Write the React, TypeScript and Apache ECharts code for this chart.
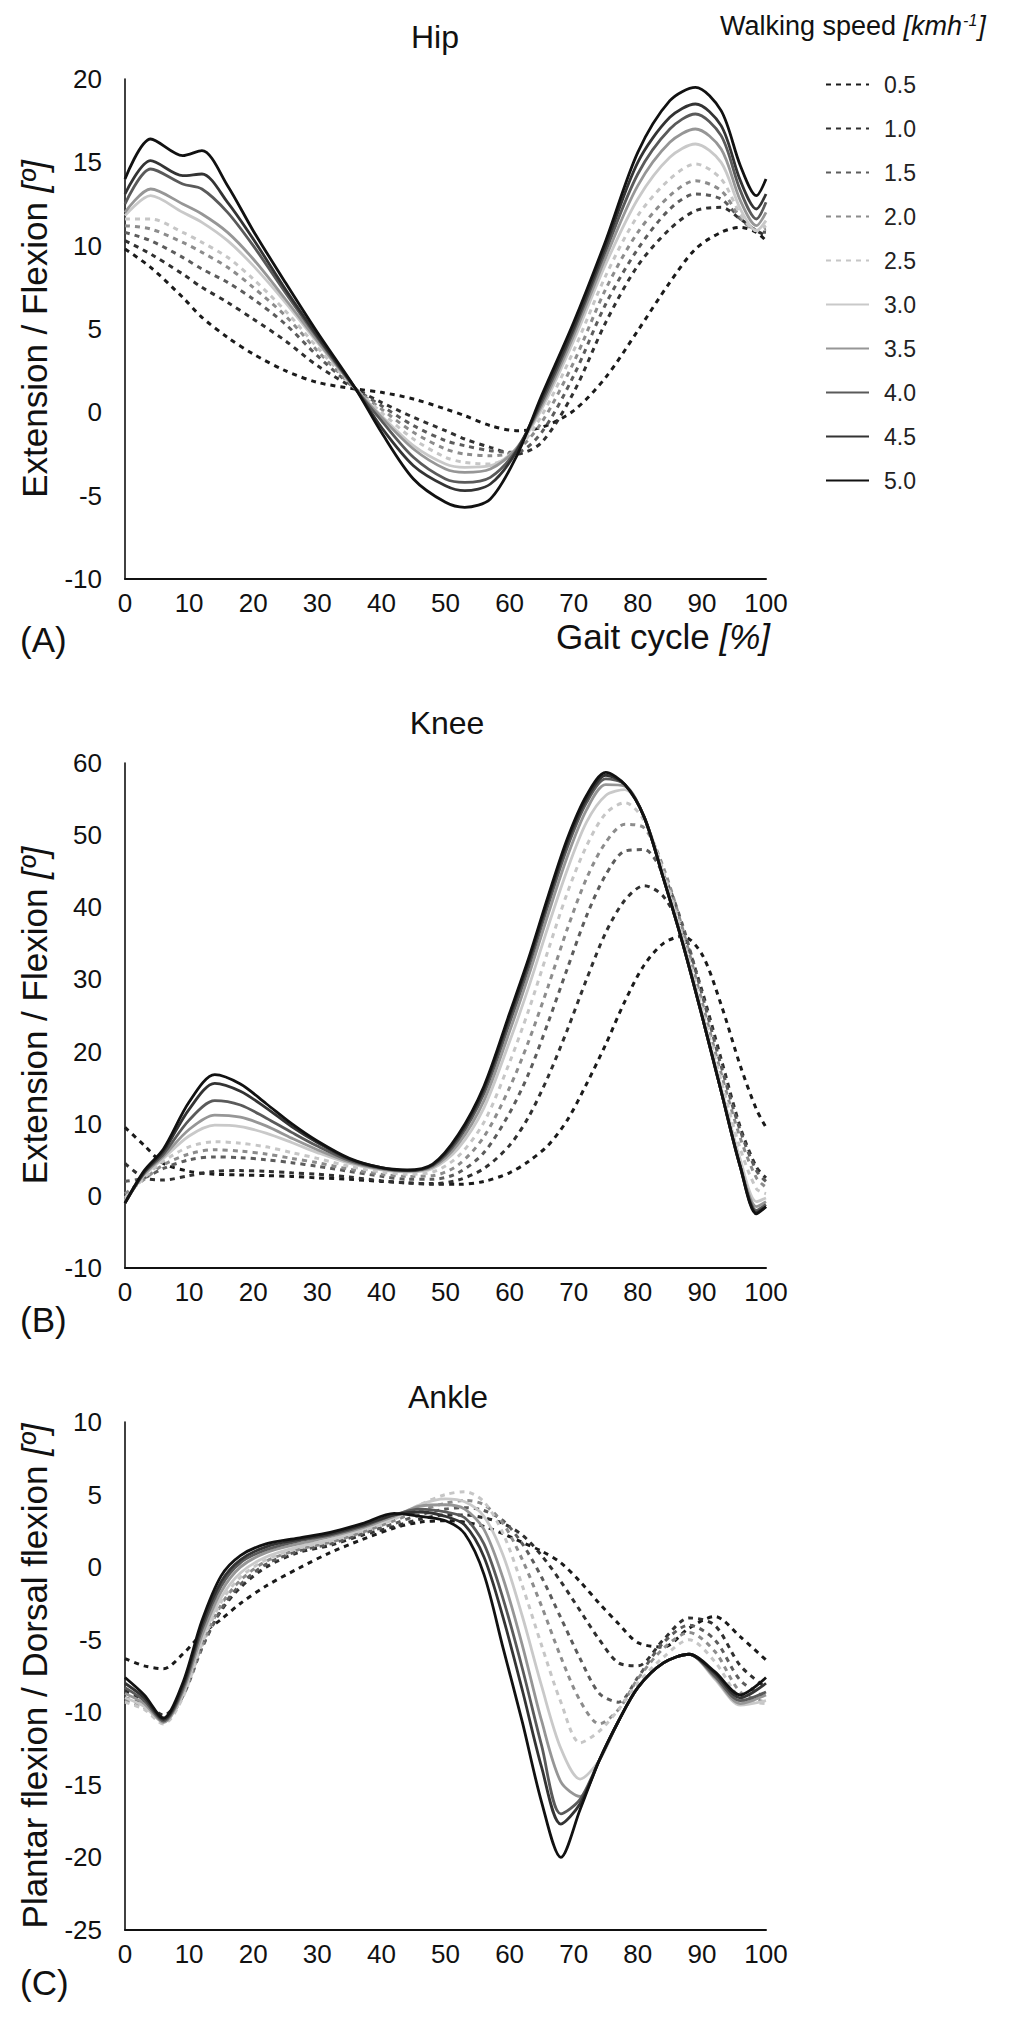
import React, { useEffect, useRef } from "react";
import * as echarts from "echarts";

// Walking speeds (km/h) – legend entries
const SPEEDS = ["0.5", "1.0", "1.5", "2.0", "2.5", "3.0", "3.5", "4.0", "4.5", "5.0"];

// ---------- HIP (gait cycle %, angle °) ----------
const HIP_X = [0, 4, 9, 12, 16, 20, 25, 30, 36, 40, 45, 50, 53, 57, 61, 65, 70, 75, 80, 85, 89, 93, 96, 98.5, 100];
const HIP_ROWS = [
  [9.8, 8.7, 6.9, 5.7, 4.5, 3.5, 2.5, 1.8, 1.4, 1.2, 0.8, 0.2, -0.2, -0.8, -1.1, -0.9, 0.1, 2.1, 4.9, 7.8, 9.8, 10.8, 11.1, 10.8, 10.3],
  [10.3, 9.5, 8.3, 7.5, 6.6, 5.6, 4.3, 2.8, 1.4, 0.6, -0.3, -1.1, -1.6, -2.1, -2.5, -1.8, 1.2, 5.4, 8.8, 11.0, 12.1, 12.3, 11.6, 10.9, 10.6],
  [10.8, 10.3, 9.3, 8.6, 7.8, 6.8, 5.3, 3.4, 1.4, 0.4, -0.8, -1.7, -2.0, -2.3, -2.4, -1.2, 2.2, 6.5, 9.8, 12.2, 13.1, 12.8, 11.6, 10.9, 10.8],
  [11.2, 11.0, 10.2, 9.6, 8.7, 7.5, 5.8, 3.7, 1.4, 0.2, -1.2, -2.2, -2.5, -2.6, -2.3, -0.6, 3.0, 7.4, 10.8, 13.0, 13.9, 13.3, 11.7, 10.9, 11.0],
  [11.6, 11.6, 10.8, 10.2, 9.3, 8.0, 6.1, 3.9, 1.4, 0.0, -1.6, -2.7, -3.0, -3.1, -2.3, -0.2, 3.7, 8.2, 11.8, 14.0, 14.9, 14.0, 11.9, 10.9, 11.2],
  [11.8, 13.0, 12.0, 11.4, 10.3, 8.8, 6.6, 4.2, 1.4, -0.2, -2.0, -3.1, -3.3, -3.2, -2.2, 0.2, 4.3, 8.9, 12.8, 15.3, 16.1, 15.0, 12.2, 10.9, 11.5],
  [12.0, 13.4, 12.5, 11.9, 10.8, 9.2, 6.8, 4.3, 1.4, -0.3, -2.2, -3.4, -3.6, -3.4, -2.2, 0.4, 4.6, 9.3, 13.6, 16.2, 17.0, 15.8, 12.7, 11.2, 12.0],
  [12.5, 14.6, 13.7, 13.4, 12.0, 10.0, 7.2, 4.5, 1.4, -0.5, -2.7, -4.0, -4.2, -3.9, -2.3, 0.6, 4.9, 9.7, 14.3, 17.0, 17.9, 16.6, 13.3, 11.6, 12.6],
  [13.1, 15.1, 14.2, 14.3, 12.6, 10.4, 7.4, 4.6, 1.4, -0.9, -3.2, -4.4, -4.7, -4.3, -2.4, 0.8, 5.1, 10.0, 15.0, 17.7, 18.5, 17.2, 13.9, 12.2, 13.1],
  [14.0, 16.4, 15.4, 15.7, 13.6, 10.9, 7.8, 4.8, 1.4, -1.2, -4.0, -5.4, -5.7, -5.2, -2.7, 1.0, 5.4, 10.3, 15.6, 18.7, 19.5, 18.1, 14.8, 13.0, 14.0],
];

// ---------- KNEE ----------
const KNEE_X = [0, 3, 6, 10, 14, 18, 22, 26, 30, 35, 40, 44, 48, 52, 56, 60, 63, 66, 69, 72, 75, 78, 81, 84, 87, 90, 93, 96, 98.5, 100];
const KNEE_ROWS = [
  [9.5, 7.0, 4.5, 3.4, 3.0, 2.9, 2.8, 2.7, 2.5, 2.3, 2.0, 1.8, 1.6, 1.6, 2.0, 3.2, 4.8, 7.0, 10.5, 15.5, 21.0, 27.0, 32.0, 35.0, 36.0, 33.5, 26.5, 18.0, 12.0, 9.5],
  [4.5, 2.5, 2.2, 2.8, 3.4, 3.5, 3.4, 3.2, 3.0, 2.6, 2.1, 1.8, 1.7, 2.2, 3.8, 7.0, 11.0, 16.5, 23.0, 30.0, 36.5, 41.0, 43.0, 41.5, 36.5, 28.5, 19.0, 9.5, 4.0, 2.5],
  [2.0, 2.5, 3.8, 5.0, 5.4, 5.3, 5.0, 4.6, 4.1, 3.4, 2.7, 2.3, 2.3, 3.2, 6.0, 11.5, 17.0, 24.0, 31.5, 38.8, 44.5, 47.8, 48.0, 44.5, 37.5, 28.0, 18.0, 9.0, 3.5, 2.0],
  [0.3, 2.3, 4.3, 5.8, 6.4, 6.2, 5.8, 5.2, 4.6, 3.7, 3.0, 2.7, 2.8, 4.3, 8.2, 15.0, 21.5, 29.0, 37.0, 44.0, 49.0, 51.5, 51.0, 45.5, 37.0, 27.0, 17.0, 8.0, 2.5, 1.2],
  [-0.3, 2.5, 4.8, 6.8, 7.5, 7.3, 6.8, 6.0, 5.2, 4.1, 3.3, 3.0, 3.3, 5.5, 10.2, 18.5, 25.8, 34.0, 42.0, 48.5, 53.0, 54.5, 52.0, 45.0, 36.0, 26.0, 16.0, 6.5, 1.0, 0.3],
  [-0.6, 2.8, 5.2, 8.3, 9.8, 9.6, 8.7, 7.4, 6.0, 4.5, 3.6, 3.3, 3.8, 6.6, 12.2, 21.4, 29.0, 37.3, 45.2, 51.8, 55.5, 56.3, 52.5, 44.5, 35.5, 25.5, 15.0, 5.0, -0.8, -0.3],
  [-0.8, 3.0, 5.5, 9.2, 11.2, 10.9, 9.7, 8.0, 6.4, 4.7, 3.7, 3.4, 4.0, 7.2, 13.2, 22.8, 30.6, 39.0, 47.0, 53.5, 57.0, 56.8, 52.5, 44.0, 35.0, 25.0, 14.5, 4.2, -1.5, -0.8],
  [-1.0, 3.2, 5.8, 10.5, 13.2, 12.6, 10.8, 8.8, 6.9, 4.9, 3.8, 3.5, 4.2, 7.8, 14.2, 24.0, 31.8, 40.3, 48.3, 54.5, 57.8, 57.0, 52.5, 44.0, 35.0, 25.0, 14.5, 4.0, -2.0, -1.2],
  [-1.0, 3.3, 6.2, 12.0, 15.6, 14.5, 12.2, 9.6, 7.4, 5.1, 3.9, 3.5, 4.3, 8.2, 14.8, 24.8, 32.5, 41.0, 49.0, 55.0, 58.3, 57.0, 52.5, 44.0, 35.0, 25.0, 14.5, 4.0, -2.3, -1.5],
  [-1.0, 3.5, 6.5, 13.0, 16.8, 15.5, 12.8, 10.0, 7.6, 5.2, 3.9, 3.6, 4.4, 8.5, 15.2, 25.3, 33.0, 41.5, 49.5, 55.5, 58.7, 57.0, 52.5, 44.0, 35.0, 25.0, 14.5, 4.0, -2.5, -1.5],
];

// ---------- ANKLE ----------
const ANKLE_X = [0, 3, 6, 9, 12, 15, 18, 22, 27, 32, 37, 42, 46, 50, 53, 56, 59, 62, 65, 68, 71, 74, 77, 80, 84, 88, 92, 96, 100];
const ANKLE_ROWS = [
  [-6.3, -6.8, -7.0, -6.0, -4.6, -3.6, -2.5, -1.3, -0.1, 1.0, 1.9, 2.7, 3.1, 3.2, 3.1, 2.8, 2.3, 1.7, 1.1, 0.3, -1.0, -2.5, -3.9, -5.2, -5.5, -4.2, -3.4, -4.8, -6.4],
  [-8.5, -9.2, -10.2, -8.7, -5.5, -3.0, -1.4, 0.0, 1.0, 1.5, 2.2, 2.8, 3.3, 3.6, 3.6, 3.4, 3.0, 2.2, 0.8, -1.0, -3.0, -5.0, -6.6, -6.8, -5.0, -3.5, -4.0, -6.8, -8.3],
  [-9.0, -9.5, -10.4, -8.9, -5.6, -2.9, -1.2, 0.2, 1.1, 1.6, 2.3, 3.0, 3.6, 4.0, 4.1, 3.9, 3.2, 1.6, -0.7, -3.5, -6.3, -8.7, -9.3, -7.6, -5.2, -4.0, -5.0, -7.8, -9.0],
  [-9.2, -9.7, -10.6, -8.9, -5.4, -2.6, -0.9, 0.4, 1.2, 1.7, 2.4, 3.2, 3.9, 4.4, 4.6, 4.3, 3.0, 0.5, -2.7, -6.2, -9.2, -10.8, -9.8, -7.7, -5.6, -4.5, -5.8, -8.6, -9.3],
  [-9.3, -9.8, -10.8, -9.0, -5.3, -2.4, -0.7, 0.5, 1.3, 1.8, 2.5, 3.3, 4.3, 5.0, 5.2, 4.5, 2.3, -1.3, -5.4, -9.3, -12.1, -11.3, -9.8, -8.0, -6.2, -5.0, -6.5, -9.0, -9.4],
  [-9.0, -9.6, -10.7, -8.8, -5.0, -2.1, -0.4, 0.7, 1.4, 1.9, 2.6, 3.4, 4.3, 4.7, 4.5, 3.5, 0.8, -3.4, -8.2, -12.5, -14.6, -13.3, -10.6, -8.3, -6.6, -6.0, -7.7, -9.5, -9.2],
  [-8.7, -9.4, -10.7, -8.6, -4.7, -1.7, 0.0, 1.0, 1.6, 2.1, 2.7, 3.5, 4.2, 4.3, 4.0, 2.6, -0.8, -5.4, -10.6, -14.8, -15.8, -13.3, -10.6, -8.3, -6.6, -6.0, -7.6, -9.4, -8.8],
  [-8.3, -9.2, -10.6, -8.4, -4.3, -1.3, 0.3, 1.2, 1.8, 2.2, 2.8, 3.6, 4.0, 3.8, 3.4, 1.6, -2.2, -7.0, -12.3, -17.0, -16.0, -13.3, -10.6, -8.3, -6.6, -6.0, -7.5, -9.2, -8.6],
  [-8.0, -9.0, -10.5, -8.2, -4.0, -1.0, 0.5, 1.4, 1.9, 2.3, 2.9, 3.6, 3.8, 3.5, 2.9, 0.7, -3.5, -8.5, -13.8, -17.7, -16.3, -13.3, -10.6, -8.3, -6.6, -6.0, -7.3, -9.0, -8.0],
  [-7.6, -8.8, -10.4, -8.0, -3.7, -0.6, 0.8, 1.6, 2.0, 2.4, 3.0, 3.7, 3.5, 3.2, 2.3, -0.5, -5.6, -10.7, -16.2, -20.0, -16.7, -13.3, -10.6, -8.3, -6.6, -6.0, -7.2, -8.8, -7.6],
];

const FONT = '"Liberation Sans", Arial, Helvetica, sans-serif';
const INK = "#111111";

const LINE_STYLES = [
  { color: "#1a1a1a", type: [5, 5], width: 3 },
  { color: "#303030", type: [5, 5], width: 3 },
  { color: "#5c5c5c", type: [5, 5], width: 3 },
  { color: "#8c8c8c", type: [5, 5], width: 3 },
  { color: "#c6c6c6", type: [5, 5], width: 3 },
  { color: "#c9c9c9", type: "solid", width: 2.8 },
  { color: "#969696", type: "solid", width: 2.8 },
  { color: "#5a5a5a", type: "solid", width: 2.8 },
  { color: "#333333", type: "solid", width: 2.8 },
  { color: "#111111", type: "solid", width: 2.8 },
];

export default function App() {
  const ref = useRef<HTMLDivElement>(null);

  useEffect(() => {
    if (!ref.current) return;
    const chart = echarts.init(ref.current, null, { renderer: "svg" });

    const panels = [
      { xs: HIP_X, rows: HIP_ROWS, top: 79, height: 500, min: -10, max: 20, interval: 5, yName: "Extension / Flexion {i|[º]}", xName: "Gait cycle {i|[%]}" },
      { xs: KNEE_X, rows: KNEE_ROWS, top: 763, height: 505, min: -10, max: 60, interval: 10, yName: "Extension / Flexion {i|[º]}", xName: "" },
      { xs: ANKLE_X, rows: ANKLE_ROWS, top: 1422, height: 508, min: -25, max: 10, interval: 5, yName: "Plantar flexion / Dorsal flexion {i|[º]}", xName: "" },
    ];

    const nameStyle = {
      fontSize: 35,
      color: INK,
      fontFamily: FONT,
      rich: { i: { fontStyle: "italic", fontSize: 35, color: INK, fontFamily: FONT } },
    };

    const grid = panels.map((p) => ({ left: 125, top: p.top, width: 641, height: p.height, containLabel: false }));

    const xAxis = panels.map((p, i) => ({
      type: "value",
      gridIndex: i,
      min: 0,
      max: 100,
      interval: 10,
      name: p.xName,
      nameLocation: "end",
      nameGap: 4,
      nameTextStyle: { ...nameStyle, align: "right", verticalAlign: "top", padding: [40, 0, 0, 0] },
      axisLine: { show: true, onZero: false, lineStyle: { color: INK, width: 2 } },
      axisTick: { show: false },
      splitLine: { show: false },
      axisLabel: { fontSize: 26, color: INK, fontFamily: FONT, margin: 11 },
    }));

    const yAxis = panels.map((p, i) => ({
      type: "value",
      gridIndex: i,
      min: p.min,
      max: p.max,
      interval: p.interval,
      name: p.yName,
      nameLocation: "middle",
      nameGap: 73,
      nameTextStyle: nameStyle,
      axisLine: { show: true, onZero: false, lineStyle: { color: INK, width: 1.6 } },
      axisTick: { show: false },
      splitLine: { show: false },
      axisLabel: { fontSize: 26, color: INK, fontFamily: FONT, margin: 23 },
    }));

    const series: any[] = [];
    panels.forEach((p, pi) => {
      p.rows.forEach((row, si) => {
        const st = LINE_STYLES[si];
        series.push({
          name: SPEEDS[si],
          type: "line",
          xAxisIndex: pi,
          yAxisIndex: pi,
          data: row.map((v, j) => [p.xs[j], v]),
          symbol: "none",
          smooth: 0.3,
          silent: true,
          color: st.color,
          itemStyle: { color: st.color },
          lineStyle: { color: st.color, type: st.type, width: st.width, cap: "butt" },
          emphasis: { disabled: true },
        });
      });
    });

    const option = {
      animation: false,
      backgroundColor: "#ffffff",
      textStyle: { fontFamily: FONT },
      title: [
        { text: "Hip", left: 435, top: 21, textAlign: "center", padding: 0, textStyle: { fontSize: 32, fontWeight: "normal", color: INK, fontFamily: FONT } },
        { text: "Knee", left: 447, top: 707, textAlign: "center", padding: 0, textStyle: { fontSize: 32, fontWeight: "normal", color: INK, fontFamily: FONT } },
        { text: "Ankle", left: 448, top: 1381, textAlign: "center", padding: 0, textStyle: { fontSize: 32, fontWeight: "normal", color: INK, fontFamily: FONT } },
        {
          text: "Walking speed {i|[kmh}{s|-1}{i|]}",
          left: 720,
          top: 12,
          padding: 0,
          textStyle: {
            fontSize: 27,
            fontWeight: "normal",
            color: INK,
            fontFamily: FONT,
            rich: {
              i: { fontStyle: "italic", fontSize: 27, color: INK, fontFamily: FONT },
              s: { fontStyle: "italic", fontSize: 16, color: INK, fontFamily: FONT, verticalAlign: "top", padding: [0, 1, 10, 1] },
            },
          },
        },
      ],
      legend: {
        data: SPEEDS,
        orient: "vertical",
        left: 825,
        top: 73,
        padding: 0,
        itemWidth: 43,
        itemHeight: 14,
        itemGap: 21,
        selectedMode: false,
        itemStyle: { opacity: 0, borderWidth: 0 },
        textStyle: { fontSize: 23, color: "#222222", fontFamily: FONT, padding: [0, 0, 0, 10] },
      },
      grid,
      xAxis,
      yAxis,
      series,
      graphic: [
        { type: "text", left: 20, top: 622, style: { text: "(A)", fontSize: 35, fontFamily: FONT, fill: INK } },
        { type: "text", left: 20, top: 1302, style: { text: "(B)", fontSize: 35, fontFamily: FONT, fill: INK } },
        { type: "text", left: 20, top: 1965, style: { text: "(C)", fontSize: 35, fontFamily: FONT, fill: INK } },
      ],
    };

    chart.setOption(option as any);
    return () => chart.dispose();
  }, []);

  return (
    <div
      ref={ref}
      style={{ position: "absolute", left: 0, top: 0, width: 1024, height: 2030, background: "#fff" }}
    />
  );
}
